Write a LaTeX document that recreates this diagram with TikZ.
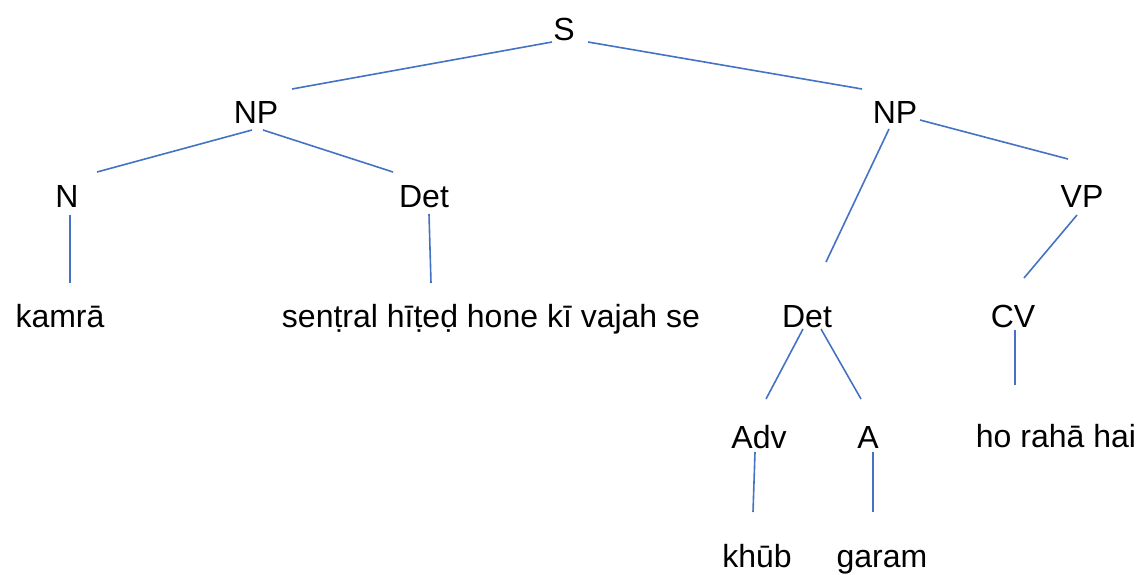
\documentclass[tikz,border=0pt]{standalone}
\usepackage{fontspec}
\setmainfont{Liberation Sans}
\usetikzlibrary{calc}
\definecolor{edgeblue}{HTML}{4472C4}
\tikzset{
  lbl/.style={anchor=base, inner sep=0pt, font=\fontsize{32}{38}\selectfont},
  edge/.style={draw=edgeblue, line width=1.6pt}
}
\begin{document}
\begin{tikzpicture}[x=1pt,y=-1pt]
\useasboundingbox (0,0) rectangle (1140,574);
\node[lbl] (S) at (564,40) {S};
\node[lbl] (NPa) at (256,123) {NP};
\node[lbl] (NPb) at (895,123) {NP};
\node[lbl] (N) at (67,207) {N};
\node[lbl] (DetA) at (424,207) {Det};
\node[lbl] (VP) at (1082,207) {VP};
\node[lbl] (kamra) at (60,327) {kamrā};
\node[lbl] (sentral) at (491,327) {senṭral hīṭeḍ hone kī vajah se};
\node[lbl] (DetB) at (807,327) {Det};
\node[lbl] (CV) at (1013,327) {CV};
\node[lbl] (Adv) at (759,448) {Adv};
\node[lbl] (A) at (868,448) {A};
\node[lbl] (ho) at (1056,447) {ho rahā hai};
\node[lbl] (khub) at (757,567) {khūb};
\node[lbl] (garam) at (882,567) {garam};

\draw[edge] ($(S.base)+(-12,2)$) -- ($(NPa.base)+(36,-34)$);
\draw[edge] ($(S.base)+(24,2)$) -- ($(NPb.base)+(-33,-34)$);
\draw[edge] ($(NPa.base)+(-4,7)$) -- ($(N.base)+(30,-35)$);
\draw[edge] ($(NPa.base)+(7,7)$) -- ($(DetA.base)+(-31,-35)$);
\draw[edge] ($(NPb.base)+(-6,6)$) -- ($(DetB.base)+(19,-65)$);
\draw[edge] ($(NPb.base)+(25,-3)$) -- ($(VP.base)+(-14,-48)$);
\draw[edge] ($(N.base)+(3,8)$) -- ($(kamra.base)+(10,-44)$);
\draw[edge] ($(DetA.base)+(5,7)$) -- ($(sentral.base)+(-60,-44)$);
\draw[edge] ($(VP.base)+(-5,8)$) -- ($(CV.base)+(11,-49)$);
\draw[edge] ($(DetB.base)+(-4,2)$) -- ($(Adv.base)+(7,-49)$);
\draw[edge] ($(DetB.base)+(14,2)$) -- ($(A.base)+(-7,-49)$);
\draw[edge] ($(CV.base)+(2,3)$) -- ($(ho.base)+(-41,-62)$);
\draw[edge] ($(Adv.base)+(-4,4)$) -- ($(khub.base)+(-4,-55)$);
\draw[edge] ($(A.base)+(5,4)$) -- ($(garam.base)+(-9,-55)$);
\end{tikzpicture}
\end{document}
